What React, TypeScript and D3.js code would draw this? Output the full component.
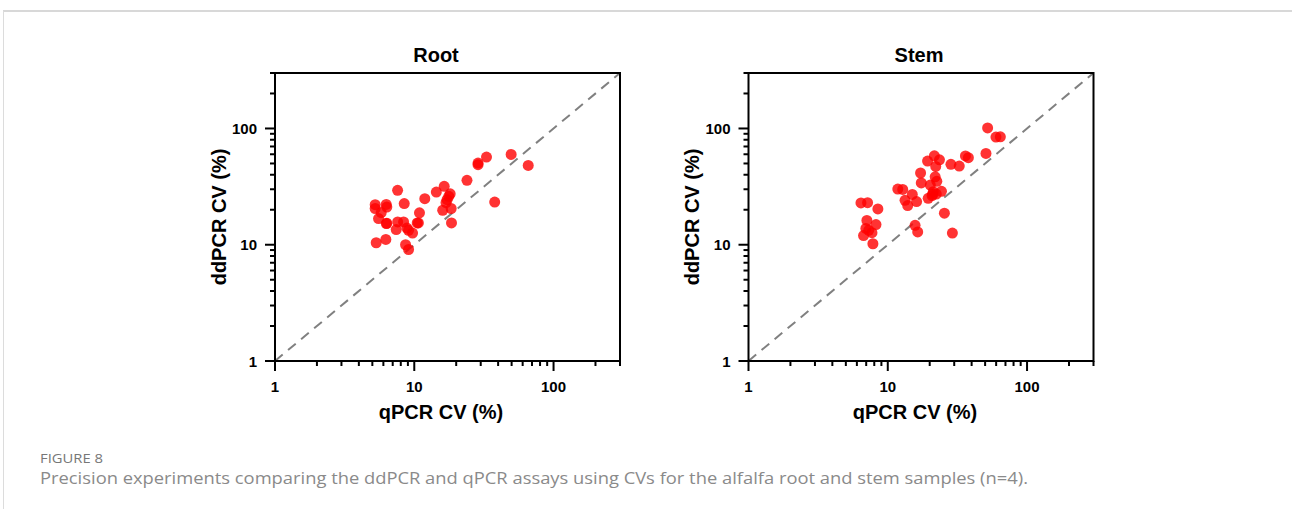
import React from "react";
import * as d3 from "d3";

const rootQ = [5.24, 5.24, 5.79, 5.54, 6.29, 6.35, 6.3, 6.35, 5.33, 6.25, 7.59, 7.6, 7.42, 8.38, 8.47, 8.85, 9.1, 8.66, 9.1, 9.72, 10.5, 10.7, 10.9, 11.9, 14.4, 16.4, 16.9, 16.0, 17.2, 17.7, 18.1, 18.4, 18.5, 23.9, 28.7, 28.7, 33.0, 37.8, 49.6, 65.8];
const rootD = [22.1, 20.5, 18.9, 16.8, 22.2, 21.1, 15.2, 15.3, 10.4, 11.1, 29.4, 15.7, 13.5, 15.7, 22.6, 13.9, 13.3, 10.0, 9.1, 12.6, 15.4, 15.4, 18.8, 24.9, 28.4, 31.8, 23.0, 19.8, 24.4, 26.1, 27.4, 20.5, 15.4, 35.8, 50.4, 48.8, 56.7, 23.3, 59.8, 48.1];

const stemQ = [6.42, 7.16, 8.49, 7.08, 8.23, 6.96, 7.3, 7.7, 6.7, 7.82, 11.8, 12.8, 13.3, 13.9, 15.0, 16.1, 15.7, 16.4, 17.2, 17.4, 19.3, 21.6, 23.5, 22.1, 20.2, 21.9, 22.5, 19.5, 21.0, 21.2, 22.3, 24.3, 20.8, 25.5, 29.1, 28.4, 32.6, 36.1, 37.9, 50.7, 52.1, 59.8, 64.3];
const stemD = [22.9, 23.0, 20.3, 16.2, 14.9, 13.8, 13.3, 12.7, 12.0, 10.2, 30.1, 29.9, 24.1, 21.7, 27.1, 23.5, 14.7, 12.9, 41.4, 34.0, 52.4, 58.2, 53.8, 47.2, 32.6, 38.4, 35.1, 25.1, 27.1, 28.6, 27.3, 28.8, 26.4, 18.7, 12.6, 49.2, 47.5, 58.1, 56.1, 61.0, 101, 84.3, 84.8];

const domain = [1, 300];
const majorTicks = [1, 10, 100];
const minorTicks = [2, 3, 4, 5, 6, 7, 8, 9, 20, 30, 40, 50, 60, 70, 80, 90, 200, 300];
const xTitle = "qPCR CV (%)";
const yTitle = "ddPCR CV (%)";
const panelTitles = ["Root", "Stem"];

const FONT = "'Liberation Sans', Arial, sans-serif";

function Panel({ left, title, qs, ds, titleX, xTitleX, yTitleX }) {
  const top = 73;
  const bottom = 361;
  const width = 345;
  const x = d3.scaleLog().domain(domain).range([left, left + width]);
  const y = d3.scaleLog().domain(domain).range([bottom, top]);
  const pts = d3.zip(qs, ds);
  return (
    <g>
      <text x={titleX} y={62} textAnchor="middle" fontFamily={FONT} fontWeight="bold" fontSize={20}>
        {title}
      </text>
      <line x1={x(domain[0])} y1={y(domain[0])} x2={x(domain[1])} y2={y(domain[1])} stroke="#808080" strokeWidth={2} strokeDasharray="10,7" />
      {pts.map(([q, d], i) => (
        <circle key={i} cx={x(q)} cy={y(d)} r={5.5} fill="#ff0000" fillOpacity={0.8} />
      ))}
      <rect x={left} y={top} width={width} height={bottom - top} fill="none" stroke="#000" strokeWidth={2} />
      {majorTicks.map((t) => (
        <g key={"xm" + t}>
          <line x1={x(t)} x2={x(t)} y1={bottom} y2={bottom + 10} stroke="#000" strokeWidth={2} />
          <text x={x(t)} y={392} textAnchor="middle" fontFamily={FONT} fontWeight="bold" fontSize={15}>
            {t}
          </text>
        </g>
      ))}
      {minorTicks.map((t) => (
        <line key={"xn" + t} x1={x(t)} x2={x(t)} y1={bottom} y2={bottom + 5} stroke="#000" strokeWidth={2} />
      ))}
      {majorTicks.map((t) => (
        <g key={"ym" + t}>
          <line x1={left - 10} x2={left} y1={y(t)} y2={y(t)} stroke="#000" strokeWidth={2} />
          <text x={left - 18} y={y(t) + 5.5} textAnchor="end" fontFamily={FONT} fontWeight="bold" fontSize={15}>
            {t}
          </text>
        </g>
      ))}
      {minorTicks.map((t) => (
        <line key={"yn" + t} x1={left - 5} x2={left} y1={y(t)} y2={y(t)} stroke="#000" strokeWidth={2} />
      ))}
      <text x={xTitleX} y={419} textAnchor="middle" fontFamily={FONT} fontWeight="bold" fontSize={20}>
        {xTitle}
      </text>
      <text transform={`translate(${yTitleX},${(top + bottom) / 2}) rotate(-90)`} textAnchor="middle" fontFamily={FONT} fontWeight="bold" fontSize={20}>
        {yTitle}
      </text>
    </g>
  );
}

export default function App() {
  return (
    <svg width={1292} height={509} style={{ position: "absolute", left: 0, top: 0, background: "#fff" }}>
      <rect x={0} y={0} width={1292} height={509} fill="#fff" />
      <line x1={3} x2={1292} y1={11} y2={11} stroke="#d8d8d8" strokeWidth={2} />
      <line x1={3.5} x2={3.5} y1={11} y2={509} stroke="#dcdcdc" strokeWidth={1} />
      <Panel left={275} title={panelTitles[0]} qs={rootQ} ds={rootD} titleX={436} xTitleX={441} yTitleX={226} />
      <Panel left={748.5} title={panelTitles[1]} qs={stemQ} ds={stemD} titleX={919} xTitleX={915} yTitleX={699} />
      <text x={40} y={463} fontFamily="'Open Sans', sans-serif" fontSize={12} fill="#777" textLength={63} lengthAdjust="spacingAndGlyphs">
        FIGURE 8
      </text>
      <text x={40} y={484} fontFamily="'Open Sans', sans-serif" fontSize={16} fill="#8a8a8a" textLength={988} lengthAdjust="spacingAndGlyphs">
        Precision experiments comparing the ddPCR and qPCR assays using CVs for the alfalfa root and stem samples (n=4).
      </text>
    </svg>
  );
}
